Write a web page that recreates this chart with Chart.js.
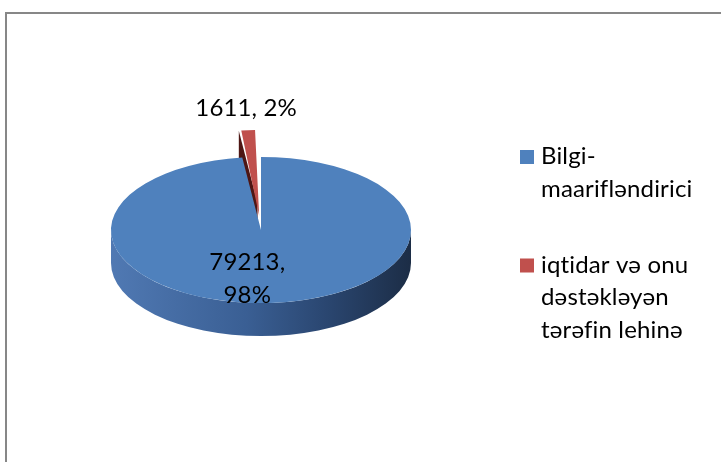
<!DOCTYPE html>
<html><head><meta charset="utf-8">
<script src="https://cdn.jsdelivr.net/npm/chart.js@4"></script>
<style>html,body{margin:0;padding:0;background:#fff;overflow:hidden}</style>
</head><body>
<canvas id="c" width="721" height="462" style="display:block;width:721px;height:462px"></canvas>
<script>
// ---- data ----
const categories = ["Bilgi-maarifləndirici", "iqtidar və onu dəstəkləyən tərəfin lehinə"];
const legendLines = [["Bilgi-", "maarifləndirici"], ["iqtidar və onu", "dəstəkləyən", "tərəfin lehinə"]];
const values = [79213, 1611];
const sliceColors = ["#4f81bd", "#c0504d"];
const sliceOffsets = [0, 118];

// ---- style ----
const TILT = 0.487;      // vertical squash of the pie
const DEPTH = 33;        // thickness of the pie in px
const FONT = "24px Lato";
const sideStops = [[0, "#5079b3"], [0.45, "#3a5f94"], [0.72, "#2a4670"], [1, "#1c2d46"]];
const faceDark = "#4e1614";

function arcShift(arc) {
  const off = (arc.options.offset || 0) / 4;
  const fix = 1 - Math.sin(Math.min(Math.PI, arc.circumference || 0));
  return off * (1 + fix);
}

function setText(ctx) {
  ctx.font = FONT;
  ctx.fillStyle = "#000";
  try { ctx.letterSpacing = "0.15px"; } catch (e) {}
  try { ctx.fontVariantLigatures = "none"; } catch (e) {}
}

const framePlugin = {
  id: "frame",
  beforeDraw(chart) {
    const ctx = chart.ctx;
    ctx.save();
    ctx.strokeStyle = "#878787";
    ctx.lineWidth = 2;
    ctx.beginPath();
    ctx.moveTo(6, chart.height + 5);
    ctx.lineTo(6, 13);
    ctx.lineTo(chart.width + 5, 13);
    ctx.stroke();
    ctx.restore();
  }
};

const pie3d = {
  id: "pie3d",
  beforeDatasetsDraw(chart) {
    const ctx = chart.ctx;
    const arcs = chart.getDatasetMeta(0).data;
    const cx = arcs[0].x, cy = arcs[0].y;
    // radial cut faces of exploded slices
    arcs.forEach((arc) => {
      const sh = arcShift(arc);
      if (!sh) return;
      const R = arc.outerRadius;
      const half = (arc.startAngle + arc.endAngle) / 2;
      const ox = cx + Math.cos(half) * sh, oy = cy + Math.sin(half) * sh * TILT;
      [arc.startAngle, arc.endAngle].forEach((a, j) => {
        const visible = j === 0 ? Math.cos(a) < 0 : Math.cos(a) > 0;
        if (!visible) return;
        const px = ox + Math.cos(a) * R, py = oy + Math.sin(a) * R * TILT;
        ctx.save();
        ctx.fillStyle = faceDark;
        ctx.beginPath();
        ctx.moveTo(ox, oy);
        ctx.lineTo(px, py);
        ctx.lineTo(px, py + DEPTH);
        ctx.lineTo(ox, oy + DEPTH);
        ctx.closePath();
        ctx.fill();
        ctx.restore();
      });
    });
    // front side walls
    arcs.forEach((arc, i) => {
      const sh = arcShift(arc);
      const R = arc.outerRadius;
      const half = (arc.startAngle + arc.endAngle) / 2;
      const ox = cx + Math.cos(half) * sh, oy = cy + Math.sin(half) * sh * TILT;
      for (let k = -1; k <= 1; k++) {
        const lo = Math.max(arc.startAngle, 2 * Math.PI * k);
        const hi = Math.min(arc.endAngle, 2 * Math.PI * k + Math.PI);
        if (hi <= lo) continue;
        const g = ctx.createLinearGradient(ox - R, 0, ox + R, 0);
        if (i === 0) sideStops.forEach(s => g.addColorStop(s[0], s[1]));
        else { g.addColorStop(0, "#a04240"); g.addColorStop(1, "#5a1e1c"); }
        ctx.save();
        ctx.fillStyle = g;
        ctx.beginPath();
        ctx.ellipse(ox, oy, R, R * TILT, 0, lo, hi);
        ctx.ellipse(ox, oy + DEPTH, R, R * TILT, 0, hi, lo, true);
        ctx.closePath();
        ctx.fill();
        ctx.restore();
      }
    });
    ctx.save();
    ctx.translate(cx, cy);
    ctx.scale(1, TILT);
    ctx.translate(-cx, -cy);
  },
  afterDatasetsDraw(chart) {
    const ctx = chart.ctx;
    ctx.restore();
    const arcs = chart.getDatasetMeta(0).data;
    const total = values.reduce((a, b) => a + b, 0);
    ctx.save();
    setText(ctx);
    ctx.textAlign = "center";
    ctx.textBaseline = "middle";
    arcs.forEach((arc, i) => {
      const pct = Math.round(values[i] / total * 100) + "%";
      const half = (arc.startAngle + arc.endAngle) / 2;
      const sh = arcShift(arc);
      const cx = arc.x, cy = arc.y, R = arc.outerRadius;
      if (sh === 0) {
        const r = R * 0.67;
        const x = cx + Math.cos(half) * r - 20, y = cy + Math.sin(half) * r * TILT;
        ctx.fillText(values[i] + ",", x, y - 16.5);
        ctx.fillText(pct, x, y + 16.5);
      } else {
        const r = R + sh;
        const x = cx + Math.cos(half) * r - 2, y = cy + Math.sin(half) * r * TILT - 22;
        ctx.fillText(values[i] + ", " + pct, x, y);
      }
    });
    ctx.restore();
  },
  afterDraw(chart) {
    const ctx = chart.ctx;
    const ds = chart.data.datasets[0];
    ctx.save();
    setText(ctx);
    ctx.textAlign = "left";
    ctx.textBaseline = "alphabetic";
    let y = 164;
    const lh = 32.5;
    legendLines.forEach((lines, i) => {
      ctx.fillStyle = ds.backgroundColor[i];
      ctx.fillRect(520, y - 14, 14, 14);
      ctx.fillStyle = "#000";
      lines.forEach((t, j) => ctx.fillText(t, 541, y + j * lh));
      y += lines.length * lh + 43.5;
    });
    ctx.restore();
  }
};

function make() {
  new Chart(document.getElementById("c"), {
    type: "pie",
    data: {
      labels: categories,
      datasets: [{
        data: values,
        backgroundColor: sliceColors,
        borderWidth: 0,
        offset: sliceOffsets,
        radius: 150,
        clip: false
      }]
    },
    options: {
      responsive: false,
      animation: false,
      layout: { padding: { left: 20, right: 219, top: 20, bottom: 22 } },
      plugins: { legend: { display: false }, tooltip: { enabled: false } }
    },
    plugins: [framePlugin, pie3d]
  });
}
document.fonts.load(FONT).then(make, make);
</script>
</body></html>
